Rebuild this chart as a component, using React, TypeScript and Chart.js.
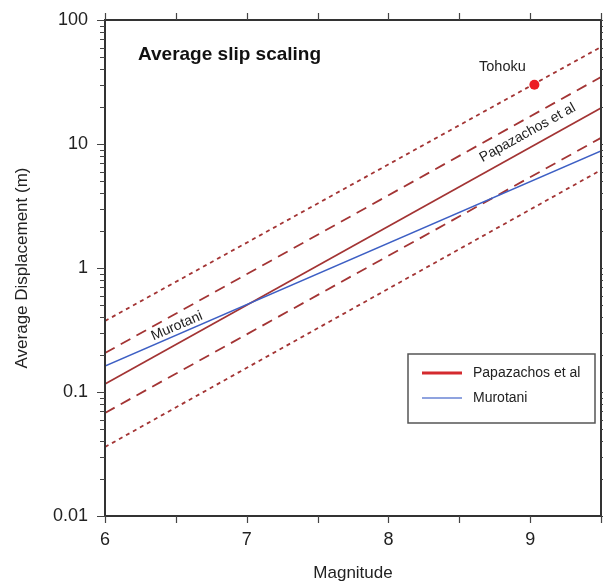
import React, { useEffect, useRef } from 'react';
import { Chart, registerables } from 'chart.js';

Chart.register(...registerables);

// ---- data ----
const magnitudes = [6, 9.5];
const papazachos = [0.116, 19.5];
const murotani = [0.162, 8.8];
const papUpperDashed = [0.206, 34.7];
const papLowerDashed = [0.0678, 11.2];
const papUpperDotted = [0.374, 60.6];
const papLowerDotted = [0.036, 6.17];
const tohokuMag = [9.03];
const tohokuSlip = [30];

const xTickValues = [6, 6.5, 7, 7.5, 8, 8.5, 9, 9.5];
const xTickLabels = ['6', '', '7', '', '8', '', '9', ''];
const yDecades = [0.01, 0.1, 1, 10, 100];
const yDecadeLabels = ['0.01', '0.1', '1', '10', '100'];
const yMinorMultipliers = [2, 3, 4, 5, 6, 7, 8, 9];

const FONT = '"Liberation Sans", Arial, Helvetica, sans-serif';
const LINE_RED = '#a33434';
const LINE_BLUE = '#3d5fc4';

const pts = (ys: number[]) => magnitudes.map((m, i) => ({ x: m, y: ys[i] }));

const yTickValues: number[] = [];
yDecades.forEach((d, i) => {
  yTickValues.push(d);
  if (i < yDecades.length - 1) yMinorMultipliers.forEach((m) => yTickValues.push(+(d * m).toPrecision(3)));
});

const isDecade = (v: number) => yDecades.some((d) => Math.abs(d - v) / d < 1e-6);

const annotationPlugin = {
  id: 'annotations',
  afterDatasetsDraw(chart: any) {
    const { ctx, chartArea: a, scales } = chart;
    const xs = scales.x;
    const ys = scales.y;
    ctx.save();

    // frame
    ctx.strokeStyle = '#333';
    ctx.lineWidth = 2;
    ctx.strokeRect(a.left, a.top, a.right - a.left, a.bottom - a.top);

    // ticks
    ctx.lineWidth = 1.2;
    ctx.strokeStyle = '#444';
    ctx.beginPath();
    xTickValues.forEach((v) => {
      const px = Math.round(xs.getPixelForValue(v)) + 0.5;
      ctx.moveTo(px, a.bottom);
      ctx.lineTo(px, a.bottom + 7);
      ctx.moveTo(px, a.top);
      ctx.lineTo(px, a.top - 7);
    });
    yTickValues.forEach((v) => {
      const py = Math.round(ys.getPixelForValue(v)) + 0.5;
      const len = isDecade(v) ? 8 : 5;
      ctx.moveTo(a.left, py);
      ctx.lineTo(a.left - len, py);
      ctx.moveTo(a.right, py);
      ctx.lineTo(a.right + len, py);
    });
    ctx.stroke();

    // title
    ctx.fillStyle = '#111';
    ctx.font = `bold 19px ${FONT}`;
    ctx.textAlign = 'left';
    ctx.textBaseline = 'alphabetic';
    ctx.fillText('Average slip scaling', a.left + 33, a.top + 40);

    // Tohoku label
    const tx = xs.getPixelForValue(tohokuMag[0]);
    const ty = ys.getPixelForValue(tohokuSlip[0]);
    ctx.font = `14.5px ${FONT}`;
    ctx.fillStyle = '#222';
    ctx.textAlign = 'center';
    ctx.textBaseline = 'middle';
    ctx.fillText('Tohoku', tx - 32, ty - 18);

    // labels along lines
    const lineLabel = (text: string, ysArr: number[], atMag: number, offset: number) => {
      const x1 = xs.getPixelForValue(magnitudes[0]);
      const y1 = ys.getPixelForValue(ysArr[0]);
      const x2 = xs.getPixelForValue(magnitudes[1]);
      const y2 = ys.getPixelForValue(ysArr[1]);
      const ang = Math.atan2(y2 - y1, x2 - x1);
      const px = xs.getPixelForValue(atMag);
      const py = y1 + ((px - x1) * (y2 - y1)) / (x2 - x1);
      ctx.save();
      ctx.translate(px + offset * Math.sin(ang), py - offset * Math.cos(ang));
      ctx.rotate(ang);
      ctx.font = `14px ${FONT}`;
      ctx.fillStyle = '#222';
      ctx.textAlign = 'center';
      ctx.textBaseline = 'middle';
      ctx.fillText(text, 0, 0);
      ctx.restore();
    };
    lineLabel('Papazachos et al', papazachos, 9.03, 14);
    lineLabel('Murotani', murotani, 6.53, 8);

    // legend
    const lx = a.right - 193;
    const ly = a.top + 334;
    const lw = 187;
    const lh = 69;
    ctx.fillStyle = '#fff';
    ctx.fillRect(lx, ly, lw, lh);
    ctx.strokeStyle = '#555';
    ctx.lineWidth = 1.5;
    ctx.strokeRect(lx, ly, lw, lh);
    const items = [
      { label: chart.data.datasets[0].label, color: '#d42a2e', width: 3 },
      { label: chart.data.datasets[1].label, color: '#6a84d4', width: 1.5 },
    ];
    items.forEach((it, i) => {
      const yy = ly + 19 + i * 25;
      ctx.strokeStyle = it.color;
      ctx.lineWidth = it.width;
      ctx.beginPath();
      ctx.moveTo(lx + 14, yy);
      ctx.lineTo(lx + 54, yy);
      ctx.stroke();
      ctx.fillStyle = '#222';
      ctx.font = `14px ${FONT}`;
      ctx.textAlign = 'left';
      ctx.textBaseline = 'middle';
      ctx.fillText(it.label, lx + 65, yy);
    });

    ctx.restore();
  },
};

export default function App() {
  const ref = useRef<HTMLCanvasElement>(null);

  useEffect(() => {
    document.body.style.margin = '0';
    const canvas = ref.current!;
    const chart = new Chart(canvas, {
      type: 'line',
      data: {
        datasets: [
          { label: 'Papazachos et al', data: pts(papazachos), borderColor: LINE_RED, borderWidth: 1.6, pointRadius: 0, order: 3 },
          { label: 'Murotani', data: pts(murotani), borderColor: LINE_BLUE, borderWidth: 1.5, pointRadius: 0, order: 2 },
          { label: 'Papazachos +1σ', data: pts(papUpperDashed), borderColor: LINE_RED, borderWidth: 1.8, borderDash: [11, 7], pointRadius: 0, order: 4 },
          { label: 'Papazachos -1σ', data: pts(papLowerDashed), borderColor: LINE_RED, borderWidth: 1.8, borderDash: [11, 7], pointRadius: 0, order: 4 },
          { label: 'Papazachos +2σ', data: pts(papUpperDotted), borderColor: LINE_RED, borderWidth: 1.8, borderDash: [4, 4], pointRadius: 0, order: 4 },
          { label: 'Papazachos -2σ', data: pts(papLowerDotted), borderColor: LINE_RED, borderWidth: 1.8, borderDash: [4, 4], pointRadius: 0, order: 4 },
          {
            label: 'Tohoku',
            data: tohokuMag.map((m, i) => ({ x: m, y: tohokuSlip[i] })),
            showLine: false,
            pointRadius: 5,
            pointBackgroundColor: '#ec1c24',
            pointBorderColor: '#ec1c24',
            pointBorderWidth: 0,
            order: 1,
          },
        ],
      },
      options: {
        responsive: false,
        animation: false,
        events: [],
        layout: { autoPadding: false, padding: { top: 20, right: 2, left: 0, bottom: 0 } },
        plugins: { legend: { display: false }, tooltip: { enabled: false } },
        scales: {
          x: {
            type: 'linear',
            min: 6,
            max: 9.5,
            grid: { display: false, drawTicks: true, tickLength: 13 },
            border: { display: false },
            afterBuildTicks: (s: any) => {
              s.ticks = xTickValues.map((v) => ({ value: v }));
            },
            afterFit: (s: any) => {
              s.height = 69;
              s.paddingLeft = 0;
              s.paddingRight = 0;
            },
            ticks: {
              autoSkip: false,
              maxRotation: 0,
              padding: 0,
              color: '#222',
              font: { family: FONT, size: 18 },
              callback: (v: any) => {
                const i = xTickValues.findIndex((t) => Math.abs(t - v) < 1e-9);
                return i >= 0 ? xTickLabels[i] : '';
              },
            },
            title: {
              display: true,
              text: 'Magnitude',
              color: '#222',
              font: { family: FONT, size: 17 },
              padding: { top: 0, bottom: 1 },
            },
          },
          y: {
            type: 'logarithmic',
            min: 0.01,
            max: 100,
            grid: { display: false },
            border: { display: false },
            afterBuildTicks: (s: any) => {
              s.ticks = yTickValues.map((v) => ({ value: v }));
            },
            afterFit: (s: any) => {
              s.width = 105;
              s.paddingTop = 0;
              s.paddingBottom = 0;
            },
            ticks: {
              autoSkip: false,
              padding: 9,
              color: '#222',
              font: { family: FONT, size: 18 },
              callback: (v: any) => {
                const i = yDecades.findIndex((d) => Math.abs(d - v) / d < 1e-6);
                return i >= 0 ? yDecadeLabels[i] : '';
              },
            },
            title: {
              display: true,
              text: 'Average Displacement (m)',
              color: '#222',
              font: { family: FONT, size: 17 },
              padding: { top: 12, bottom: 0 },
            },
          },
        },
      },
      plugins: [annotationPlugin],
    } as any);
    return () => chart.destroy();
  }, []);

  return (
    <div style={{ width: 603, height: 585, background: '#fff' }}>
      <canvas ref={ref} width={603} height={585} style={{ display: 'block' }} />
    </div>
  );
}
